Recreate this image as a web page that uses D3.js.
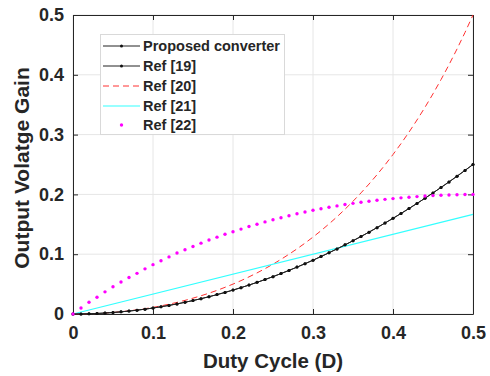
<!DOCTYPE html>
<html>
<head>
<meta charset="utf-8">
<script src="https://cdn.jsdelivr.net/npm/d3@7"></script>
<style>
  body { margin: 0; background: #fff; }
  text { font-family: "Liberation Sans", Arial, sans-serif; font-weight: bold; fill: #262626; }
</style>
</head>
<body>
<div id="chart"></div>
<script>
// duty cycle samples (marker positions)
const dutyCycle = [0, 0.01, 0.02, 0.03, 0.04, 0.05, 0.06, 0.07, 0.08, 0.09,
    0.10, 0.11, 0.12, 0.13, 0.14, 0.15, 0.16, 0.17, 0.18, 0.19,
    0.20, 0.21, 0.22, 0.23, 0.24, 0.25, 0.26, 0.27, 0.28, 0.29,
    0.30, 0.31, 0.32, 0.33, 0.34, 0.35, 0.36, 0.37, 0.38, 0.39,
    0.40, 0.41, 0.42, 0.43, 0.44, 0.45, 0.46, 0.47, 0.48, 0.49, 0.50];

// gain values
const proposedGain = [0, 0.0001, 0.0004, 0.0009, 0.0016, 0.0025, 0.0036, 0.0049, 0.0064, 0.0081,
    0.0100, 0.0121, 0.0144, 0.0169, 0.0196, 0.0225, 0.0256, 0.0289, 0.0324, 0.0361,
    0.0400, 0.0441, 0.0484, 0.0529, 0.0576, 0.0625, 0.0676, 0.0729, 0.0784, 0.0841,
    0.0900, 0.0961, 0.1024, 0.1089, 0.1156, 0.1225, 0.1296, 0.1369, 0.1444, 0.1521,
    0.1600, 0.1681, 0.1764, 0.1849, 0.1936, 0.2025, 0.2116, 0.2209, 0.2304, 0.2401, 0.2500];
const ref19Gain = proposedGain.slice(); // overlaps the proposed curve
const ref20Gain = [0, 0.0001, 0.0004, 0.0009, 0.0017, 0.0026, 0.0038, 0.0053, 0.0070, 0.0089,
    0.0111, 0.0136, 0.0164, 0.0194, 0.0228, 0.0265, 0.0305, 0.0348, 0.0395, 0.0446,
    0.0500, 0.0558, 0.0621, 0.0687, 0.0758, 0.0833, 0.0914, 0.0999, 0.1089, 0.1185,
    0.1286, 0.1393, 0.1506, 0.1625, 0.1752, 0.1885, 0.2025, 0.2173, 0.2329, 0.2493,
    0.2667, 0.2849, 0.3041, 0.3244, 0.3457, 0.3682, 0.3919, 0.4168, 0.4431, 0.4708, 0.5000];
const ref21D = [0, 0.5];
const ref21Gain = [0, 0.1667];
const ref22Gain = [0, 0.0100, 0.0196, 0.0280, 0.0370, 0.0455, 0.0535, 0.0610, 0.0680, 0.0755,
    0.0825, 0.0890, 0.0955, 0.1020, 0.1075, 0.1130, 0.1185, 0.1237, 0.1285, 0.1333,
    0.1376, 0.1420, 0.1462, 0.1502, 0.1540, 0.1577, 0.1610, 0.1644, 0.1676, 0.1706,
    0.1734, 0.1760, 0.1785, 0.1808, 0.1830, 0.1850, 0.1868, 0.1886, 0.1902, 0.1917,
    0.1930, 0.1942, 0.1953, 0.1963, 0.1972, 0.1980, 0.1986, 0.1991, 0.1995, 0.1998, 0.2000];

const xTicks = [0, 0.1, 0.2, 0.3, 0.4, 0.5];
const yTicks = [0, 0.1, 0.2, 0.3, 0.4, 0.5];
const legendLabels = ["Proposed converter", "Ref [19]", "Ref [20]", "Ref [21]", "Ref [22]"];

const width = 490, height = 376;
const margin = { top: 15, right: 17, bottom: 62, left: 73 };
const innerW = width - margin.left - margin.right;
const innerH = height - margin.top - margin.bottom;

const svg = d3.select("#chart").append("svg")
    .attr("width", width)
    .attr("height", height);

const g = svg.append("g").attr("transform", `translate(${margin.left},${margin.top})`);

const x = d3.scaleLinear().domain([0, 0.5]).range([0, innerW]);
const y = d3.scaleLinear().domain([0, 0.5]).range([innerH, 0]);

// grid
g.append("g").selectAll("line").data(xTicks).enter().append("line")
    .attr("x1", d => x(d)).attr("x2", d => x(d))
    .attr("y1", 0).attr("y2", innerH)
    .attr("stroke", "#e6e6e6").attr("stroke-width", 1);
g.append("g").selectAll("line").data(yTicks).enter().append("line")
    .attr("x1", 0).attr("x2", innerW)
    .attr("y1", d => y(d)).attr("y2", d => y(d))
    .attr("stroke", "#e6e6e6").attr("stroke-width", 1);

// axes with inward ticks
const fmt = d => d === 0 ? "0" : d3.format(".1f")(d);
g.append("g").attr("transform", `translate(0,${innerH})`)
    .call(d3.axisBottom(x).tickValues(xTicks).tickFormat(fmt).tickSizeInner(-5).tickSizeOuter(0).tickPadding(12));
g.append("g")
    .call(d3.axisLeft(y).tickValues(yTicks).tickFormat(fmt).tickSizeInner(-5).tickSizeOuter(0).tickPadding(9));
g.append("g")
    .call(d3.axisTop(x).tickValues(xTicks).tickFormat("").tickSizeInner(-5).tickSizeOuter(0));
g.append("g").attr("transform", `translate(${innerW},0)`)
    .call(d3.axisRight(y).tickValues(yTicks).tickFormat("").tickSizeInner(-5).tickSizeOuter(0));

g.selectAll(".domain").attr("stroke", "#262626");
g.selectAll(".tick line").attr("stroke", "#262626");
g.selectAll(".tick text").style("font-size", "18px").style("font-family", "'Liberation Sans', Arial, sans-serif")
    .style("font-weight", "bold").attr("fill", "#262626");

// curves
const line = d3.line().x(d => x(d[0])).y(d => y(d[1]));
const zip = (xs, ys) => xs.map((v, i) => [v, ys[i]]);

const plot = g.append("g");
plot.append("path").datum(zip(dutyCycle, ref20Gain))
    .attr("d", line).attr("fill", "none")
    .attr("stroke", "#ff3030").attr("stroke-width", 1).attr("stroke-dasharray", "6,4");
plot.append("path").datum(zip(ref21D, ref21Gain))
    .attr("d", line).attr("fill", "none")
    .attr("stroke", "#33ffff").attr("stroke-width", 1.2);
[proposedGain, ref19Gain].forEach(series => {
    plot.append("path").datum(zip(dutyCycle, series))
        .attr("d", line).attr("fill", "none")
        .attr("stroke", "#222").attr("stroke-width", 1);
    plot.append("g").selectAll("circle").data(zip(dutyCycle, series)).enter().append("circle")
        .attr("cx", d => x(d[0])).attr("cy", d => y(d[1]))
        .attr("r", 1.5).attr("fill", "#111");
});
plot.append("g").selectAll("circle").data(zip(dutyCycle, ref22Gain)).enter().append("circle")
    .attr("cx", d => x(d[0])).attr("cy", d => y(d[1]))
    .attr("r", 1.7).attr("fill", "#ff00ff");

// axis titles
svg.append("text")
    .attr("x", margin.left + innerW / 2).attr("y", 368)
    .attr("text-anchor", "middle").style("font-size", "20.5px")
    .text("Duty Cycle (D)");
svg.append("text")
    .attr("transform", "translate(29,168) rotate(-90)")
    .attr("text-anchor", "middle").style("font-size", "21px")
    .text("Output Volatge Gain");

// legend
const lg = svg.append("g");
lg.append("rect")
    .attr("x", 100.5).attr("y", 34.5).attr("width", 184).attr("height", 100)
    .attr("fill", "#fff").attr("stroke", "#d9d9d9").attr("stroke-width", 1);
const rowY = [46, 66, 86, 106, 125];
legendLabels.forEach((label, i) => {
    const yy = rowY[i];
    if (i <= 1) {
        lg.append("line").attr("x1", 103).attr("x2", 140).attr("y1", yy).attr("y2", yy)
            .attr("stroke", "#222").attr("stroke-width", 1);
        lg.append("circle").attr("cx", 121.5).attr("cy", yy).attr("r", 1.5).attr("fill", "#111");
    } else if (i === 2) {
        lg.append("line").attr("x1", 103).attr("x2", 140).attr("y1", yy).attr("y2", yy)
            .attr("stroke", "#ff3030").attr("stroke-width", 1).attr("stroke-dasharray", "6,4");
    } else if (i === 3) {
        lg.append("line").attr("x1", 103).attr("x2", 140).attr("y1", yy).attr("y2", yy)
            .attr("stroke", "#33ffff").attr("stroke-width", 1.2);
    } else {
        lg.append("circle").attr("cx", 121.5).attr("cy", yy).attr("r", 1.7).attr("fill", "#ff00ff");
    }
    lg.append("text").attr("x", 143).attr("y", yy).attr("dy", "0.36em")
        .style("font-size", "14.5px").text(label);
});
</script>
</body>
</html>
